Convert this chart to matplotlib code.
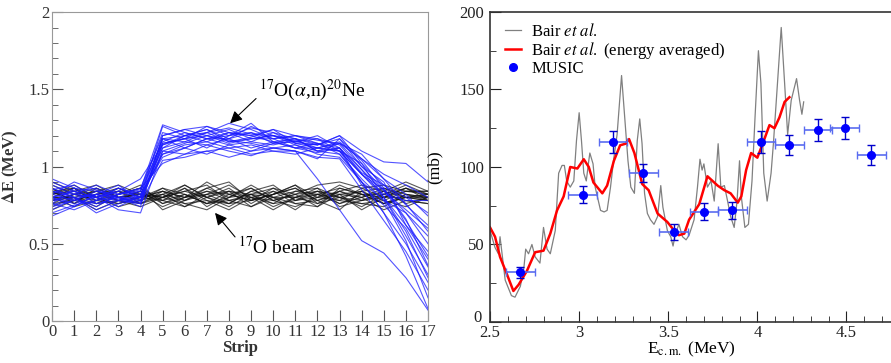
import numpy as np
import matplotlib
matplotlib.use('Agg')
import matplotlib.pyplot as plt
from matplotlib.ticker import MultipleLocator
from matplotlib.transforms import ScaledTranslation

plt.rcParams['font.family'] = 'serif'
plt.rcParams['font.serif'] = ['Liberation Serif', 'DejaVu Serif']
plt.rcParams['mathtext.fontset'] = 'stix'

strips = np.arange(18)

# 17O(a,n)20Ne events
blue_traces = [
    [0.80, 0.74, 0.82, 0.79, 0.78, 1.15, 1.18, 1.22, 1.16, 1.19, 1.24, 1.15, 1.12, 1.10, 0.95, 0.80, 0.62, 0.40],
    [0.85, 0.88, 0.80, 0.86, 0.80, 1.26, 1.20, 1.24, 1.18, 1.26, 1.20, 1.16, 1.14, 1.18, 1.00, 0.85, 0.70, 0.55],
    [0.75, 0.80, 0.72, 0.78, 0.82, 1.06, 1.12, 1.08, 1.14, 1.10, 1.15, 1.18, 1.10, 1.12, 0.98, 0.80, 0.55, 0.30],
    [0.90, 0.84, 0.86, 0.80, 0.74, 1.20, 1.24, 1.26, 1.20, 1.22, 1.18, 1.20, 1.17, 1.15, 1.05, 0.92, 0.75, 0.62],
    [0.70, 0.75, 0.78, 0.82, 0.86, 1.02, 1.08, 1.10, 1.06, 1.10, 1.12, 1.14, 1.08, 1.06, 0.90, 0.70, 0.50, 0.25],
    [0.82, 0.90, 0.85, 0.78, 0.77, 1.18, 1.16, 1.22, 1.25, 1.21, 1.20, 1.18, 1.14, 1.20, 1.10, 1.03, 1.02, 0.90],
    [0.78, 0.80, 0.70, 0.76, 0.80, 1.12, 1.20, 1.16, 1.22, 1.16, 1.22, 1.18, 1.10, 1.08, 0.92, 0.78, 0.52, 0.15],
    [0.88, 0.82, 0.80, 0.84, 0.92, 1.14, 1.18, 1.12, 1.20, 1.28, 1.16, 1.12, 1.15, 1.10, 1.02, 0.88, 0.80, 0.70],
    [0.68, 0.74, 0.82, 0.80, 0.76, 1.04, 1.06, 1.10, 1.12, 1.08, 1.10, 1.10, 1.06, 1.05, 0.85, 0.65, 0.45, 0.20],
    [0.84, 0.82, 0.88, 0.82, 0.84, 1.22, 1.18, 1.26, 1.22, 1.20, 1.24, 1.20, 1.15, 1.12, 0.95, 0.82, 0.78, 0.78],
    [0.80, 0.76, 0.80, 0.72, 0.70, 1.10, 1.15, 1.20, 1.15, 1.18, 1.18, 1.12, 1.12, 1.15, 1.00, 0.90, 0.62, 0.45],
    [0.76, 0.86, 0.78, 0.80, 0.84, 1.16, 1.22, 1.18, 1.18, 1.22, 1.15, 1.16, 1.20, 1.12, 0.88, 0.75, 0.60, 0.35],
    [0.86, 0.80, 0.82, 0.88, 0.78, 1.10, 1.08, 1.14, 1.10, 1.07, 1.12, 1.10, 1.05, 1.18, 1.05, 0.95, 0.88, 0.80],
    [0.74, 0.78, 0.76, 0.78, 0.80, 1.18, 1.20, 1.22, 1.28, 1.24, 1.18, 1.20, 1.18, 1.10, 0.90, 0.70, 0.42, 0.08],
    [0.80, 0.84, 0.76, 0.80, 0.78, 1.15, 1.18, 1.20, 1.17, 1.15, 1.12, 1.10, 0.92, 0.72, 0.52, 0.44, 0.28, 0.07],
    [0.82, 0.78, 0.84, 0.82, 0.86, 1.20, 1.24, 1.20, 1.24, 1.18, 1.20, 1.16, 1.18, 1.14, 0.98, 0.84, 0.72, 0.60],
    [0.78, 0.82, 0.80, 0.84, 0.80, 1.08, 1.14, 1.16, 1.12, 1.14, 1.10, 1.08, 1.12, 1.10, 0.95, 0.85, 0.65, 0.42],
    [0.84, 0.80, 0.74, 0.82, 0.85, 1.27, 1.22, 1.18, 1.20, 1.25, 1.22, 1.15, 1.14, 1.20, 1.02, 0.80, 0.58, 0.28],
    [0.72, 0.79, 0.82, 0.74, 0.81, 1.08, 1.12, 1.18, 1.22, 1.20, 1.16, 1.18, 1.15, 1.08, 0.90, 0.78, 0.70, 0.50],
    [0.80, 0.84, 0.80, 0.78, 0.76, 1.14, 1.20, 1.24, 1.16, 1.18, 1.20, 1.14, 1.10, 1.15, 1.08, 0.92, 0.82, 0.68],
    [0.92, 0.86, 0.84, 0.80, 0.80, 1.12, 1.16, 1.14, 1.18, 1.12, 1.16, 1.12, 1.09, 1.12, 0.96, 0.88, 0.76, 0.58],
    [0.76, 0.72, 0.78, 0.86, 0.82, 1.18, 1.12, 1.18, 1.14, 1.16, 1.14, 1.17, 1.12, 1.16, 1.04, 0.86, 0.66, 0.36],
]

# 17O beam events
black_traces = [
    [0.80, 0.86, 0.78, 0.84, 0.76, 0.82, 0.88, 0.80, 0.74, 0.82, 0.86, 0.78, 0.84, 0.76, 0.82, 0.80, 0.86, 0.80],
    [0.90, 0.84, 0.88, 0.80, 0.82, 0.74, 0.80, 0.86, 0.90, 0.78, 0.82, 0.88, 0.80, 0.84, 0.78, 0.84, 0.80, 0.82],
    [0.74, 0.80, 0.72, 0.78, 0.84, 0.80, 0.76, 0.72, 0.80, 0.86, 0.78, 0.74, 0.80, 0.88, 0.82, 0.76, 0.80, 0.78],
    [0.84, 0.76, 0.82, 0.86, 0.80, 0.86, 0.82, 0.76, 0.84, 0.80, 0.72, 0.80, 0.86, 0.80, 0.74, 0.82, 0.88, 0.82],
    [0.78, 0.82, 0.86, 0.80, 0.76, 0.80, 0.84, 0.88, 0.78, 0.74, 0.82, 0.86, 0.78, 0.72, 0.84, 0.86, 0.82, 0.80],
    [0.86, 0.80, 0.76, 0.82, 0.86, 0.72, 0.78, 0.82, 0.76, 0.84, 0.80, 0.76, 0.74, 0.82, 0.80, 0.72, 0.78, 0.76],
    [0.82, 0.88, 0.80, 0.76, 0.80, 0.84, 0.80, 0.90, 0.82, 0.78, 0.86, 0.82, 0.88, 0.90, 0.86, 0.80, 0.84, 0.84],
    [0.76, 0.78, 0.84, 0.88, 0.82, 0.78, 0.86, 0.78, 0.72, 0.80, 0.76, 0.84, 0.82, 0.78, 0.76, 0.78, 0.74, 0.80],
    [0.88, 0.82, 0.80, 0.74, 0.78, 0.82, 0.74, 0.80, 0.86, 0.76, 0.84, 0.80, 0.76, 0.84, 0.88, 0.84, 0.90, 0.84],
    [0.80, 0.74, 0.78, 0.82, 0.88, 0.76, 0.82, 0.76, 0.80, 0.88, 0.80, 0.72, 0.82, 0.76, 0.80, 0.86, 0.80, 0.78],
    [0.72, 0.78, 0.82, 0.84, 0.78, 0.86, 0.78, 0.84, 0.78, 0.82, 0.74, 0.80, 0.84, 0.80, 0.84, 0.76, 0.82, 0.80],
    [0.84, 0.86, 0.76, 0.78, 0.74, 0.80, 0.86, 0.74, 0.82, 0.78, 0.82, 0.86, 0.78, 0.82, 0.72, 0.80, 0.86, 0.82],
    [0.78, 0.80, 0.84, 0.80, 0.84, 0.76, 0.80, 0.82, 0.88, 0.80, 0.78, 0.82, 0.74, 0.86, 0.82, 0.82, 0.78, 0.76],
    [0.82, 0.84, 0.80, 0.86, 0.80, 0.84, 0.76, 0.78, 0.76, 0.84, 0.88, 0.78, 0.80, 0.78, 0.86, 0.88, 0.84, 0.82],
    [0.86, 0.76, 0.86, 0.80, 0.82, 0.80, 0.84, 0.80, 0.84, 0.74, 0.80, 0.84, 0.86, 0.74, 0.78, 0.80, 0.80, 0.80],
    [0.76, 0.82, 0.78, 0.76, 0.80, 0.82, 0.78, 0.86, 0.80, 0.82, 0.76, 0.78, 0.82, 0.80, 0.76, 0.74, 0.82, 0.78],
    [0.80, 0.80, 0.74, 0.82, 0.86, 0.78, 0.82, 0.76, 0.78, 0.80, 0.84, 0.76, 0.78, 0.84, 0.80, 0.84, 0.76, 0.80],
    [0.84, 0.78, 0.82, 0.78, 0.76, 0.84, 0.80, 0.84, 0.82, 0.86, 0.78, 0.82, 0.84, 0.82, 0.84, 0.78, 0.84, 0.84],
    [0.82, 0.86, 0.80, 0.84, 0.82, 0.80, 0.88, 0.80, 0.76, 0.78, 0.82, 0.88, 0.76, 0.80, 0.78, 0.82, 0.86, 0.78],
    [0.78, 0.82, 0.84, 0.78, 0.80, 0.78, 0.74, 0.82, 0.84, 0.82, 0.80, 0.80, 0.82, 0.86, 0.82, 0.76, 0.80, 0.82],
]

# Bair et al. raw excitation function
bair_e = [2.50, 2.528, 2.547, 2.556, 2.585, 2.62, 2.64, 2.67, 2.69, 2.70, 2.716, 2.735, 2.753, 2.78,
          2.80, 2.82, 2.838, 2.866, 2.885, 2.904, 2.917, 2.93, 2.95, 2.97, 2.985, 3.00, 3.013, 3.026,
          3.04, 3.054, 3.06, 3.078, 3.09, 3.12, 3.14, 3.157, 3.176, 3.195, 3.213, 3.238, 3.257, 3.274,
          3.29, 3.31, 3.326, 3.34, 3.353, 3.367, 3.383, 3.40, 3.42, 3.44, 3.458, 3.47, 3.495, 3.514,
          3.527, 3.54, 3.56, 3.58, 3.60, 3.617, 3.645, 3.664, 3.678, 3.69, 3.70, 3.72, 3.74, 3.758,
          3.78, 3.795, 3.815, 3.833, 3.85, 3.87, 3.886, 3.90, 3.91, 3.93, 3.95, 3.97, 3.987, 4.006,
          4.02, 4.036, 4.055, 4.077, 4.09, 4.11, 4.134, 4.153, 4.17, 4.19, 4.22, 4.237, 4.25, 4.26]
bair_sigma = [59, 48, 44, 55, 27, 17, 16, 23, 35, 47, 44, 50, 42, 38,
              61, 47, 44, 59, 96, 101, 101, 91, 87, 91, 117, 135, 117, 96,
              91, 104, 109, 102, 87, 72, 71, 72, 87, 106, 121, 159, 130, 104,
              87, 83, 117, 131, 115, 83, 70, 66, 63, 68, 88, 74, 59, 55,
              49, 57, 63, 55, 53, 56, 66, 87, 105, 98, 102, 87, 91, 78,
              115, 87, 88, 78, 68, 61, 78, 104, 81, 61, 63, 91, 132, 175,
              154, 96, 78, 96, 115, 149, 190, 154, 121, 143, 157, 143, 134, 142]

# Bair et al. energy averaged
avg_e = [2.50, 2.528, 2.556, 2.594, 2.631, 2.66, 2.707, 2.753, 2.80, 2.838, 2.876, 2.913, 2.95,
         2.99, 3.026, 3.054, 3.08, 3.13, 3.157, 3.195, 3.23, 3.26, 3.28, 3.31, 3.354, 3.39,
         3.44, 3.495, 3.533, 3.56, 3.59, 3.617, 3.674, 3.72, 3.777, 3.815, 3.85, 3.89, 3.91,
         3.937, 3.965, 4.00, 4.03, 4.068, 4.096, 4.124, 4.153, 4.18]
avg_sigma = [61, 55, 42, 31, 20, 24, 33, 45, 46, 57, 72, 81, 100,
             99, 105, 100, 90, 83, 88, 104, 114, 115, 118, 109, 89, 85,
             70, 64.5, 59, 56, 57, 66, 76, 94, 88, 85, 83, 77, 81,
             98, 109, 106, 115, 127, 125, 132, 142, 145]

# MUSIC
music_e = [2.67, 3.02, 3.19, 3.36, 3.53, 3.70, 3.86, 4.02, 4.18, 4.34, 4.49, 4.64]
music_sigma = [32, 82, 116, 96, 58, 71, 72, 116, 114, 124, 125, 108]
music_dsigma = [3.5, 5.5, 7, 6, 5, 5.5, 5.5, 7, 6.5, 7, 7, 6.5]
music_de = [0.08] * 12

fig = plt.figure(figsize=(8.91, 3.63), dpi=100)

# left panel
ax1 = fig.add_axes([0.0584, 0.1157, 0.422, 0.851])
for tr in black_traces:
    ax1.plot(strips, tr, color='#111111', lw=0.8, alpha=0.7)
for tr in blue_traces:
    ax1.plot(strips, tr, color='#1a1aff', lw=0.8, alpha=0.75)

ax1.set_xlim(0, 17)
ax1.set_ylim(0, 2)
ax1.xaxis.set_major_locator(MultipleLocator(1))
ax1.yaxis.set_minor_locator(MultipleLocator(0.1))
ax1.set_yticks([0, 0.5, 1, 1.5, 2])
ax1.set_yticklabels(['0', '0.5', '1', '1.5', '2'])
ax1.tick_params(which='both', direction='in', colors='#555555', labelcolor='#333333', labelsize=12, pad=2)
ax1.tick_params(which='major', length=8)
ax1.tick_params(which='minor', length=4)
for s in ax1.spines.values():
    s.set_color('#999999')
ax1.set_xlabel('Strip', fontsize=12, fontweight='bold', color='#333333', labelpad=0)
ax1.set_ylabel(r'$\mathbf{\Delta}$E (MeV)', fontsize=12, fontweight='bold', color='#333333', labelpad=6)

ax1.annotate(r'$^{17}$O($\alpha$,n)$^{20}$Ne', xy=(8.05, 1.28), xytext=(9.35, 1.49),
             fontsize=14, va='center', ha='left',
             arrowprops=dict(arrowstyle='-|>', color='k', lw=0.8, mutation_scale=18,
                             shrinkA=0, shrinkB=0, relpos=(0, 0.3)))
ax1.annotate(r'$^{17}$O beam', xy=(7.37, 0.70), xytext=(8.4, 0.48),
             fontsize=14, va='center', ha='left',
             arrowprops=dict(arrowstyle='-|>', color='k', lw=0.8, mutation_scale=18,
                             shrinkA=0, shrinkB=0, relpos=(0, 0.8)))

# right panel
ax2 = fig.add_axes([0.55, 0.113, 0.452, 0.854])
ax2.plot(bair_e, bair_sigma, color='#808080', lw=0.9, label=r'Bair $\mathit{et\ al.}$')
ax2.plot(avg_e, avg_sigma, color='#ff0000', lw=1.8, label=r'Bair $\mathit{et\ al.}$ (energy averaged)')
ax2.errorbar(music_e, music_sigma, xerr=music_de, fmt='none', ecolor='#5a6cf0', elinewidth=1.2, capsize=3)
ax2.errorbar(music_e, music_sigma, yerr=music_dsigma, fmt='none', ecolor='#0000cc', elinewidth=1.0, capsize=3)
ax2.plot(music_e, music_sigma, 'o', color='#0000ff', ms=5.5, label='MUSIC')

ax2.set_xlim(2.5, 4.76)
ax2.set_ylim(0, 200)
ax2.xaxis.set_minor_locator(MultipleLocator(0.1))
ax2.yaxis.set_minor_locator(MultipleLocator(25))
ax2.set_xticks([2.5, 3, 3.5, 4, 4.5])
ax2.set_xticklabels(['2.5', '3', '3.5', '4', '4.5'])
ax2.set_yticks([0, 50, 100, 150, 200])
ax2.set_yticklabels(['0', '50', '100', '150', '200'])
ax2.tick_params(which='both', direction='in', colors='#222222', labelsize=12, pad=2)
ax2.tick_params(axis='y', pad=4)
ax2.tick_params(which='major', length=8)
ax2.tick_params(which='minor', length=4)
for s in ax2.spines.values():
    s.set_color('#333333')
    s.set_linewidth(1.2)
ax2.set_xlabel(r'E$_{\rm c.m.}$ (MeV)', fontsize=12.5, labelpad=-1)
ax2.set_ylabel('(mb)', fontsize=12.5, labelpad=12)

# lift the "0" so it clears the "2.5" below it
zero_lab = ax2.yaxis.get_major_ticks()[0].label1
zero_lab.set_transform(zero_lab.get_transform() + ScaledTranslation(-2 / 72, 4 / 72, fig.dpi_scale_trans))

ax2.legend(loc='upper left', bbox_to_anchor=(0.02, 0.985), frameon=False, fontsize=12,
           handlelength=1.0, handletextpad=0.6, labelspacing=0.0, borderaxespad=0)

fig.savefig('out.png', dpi=100)
